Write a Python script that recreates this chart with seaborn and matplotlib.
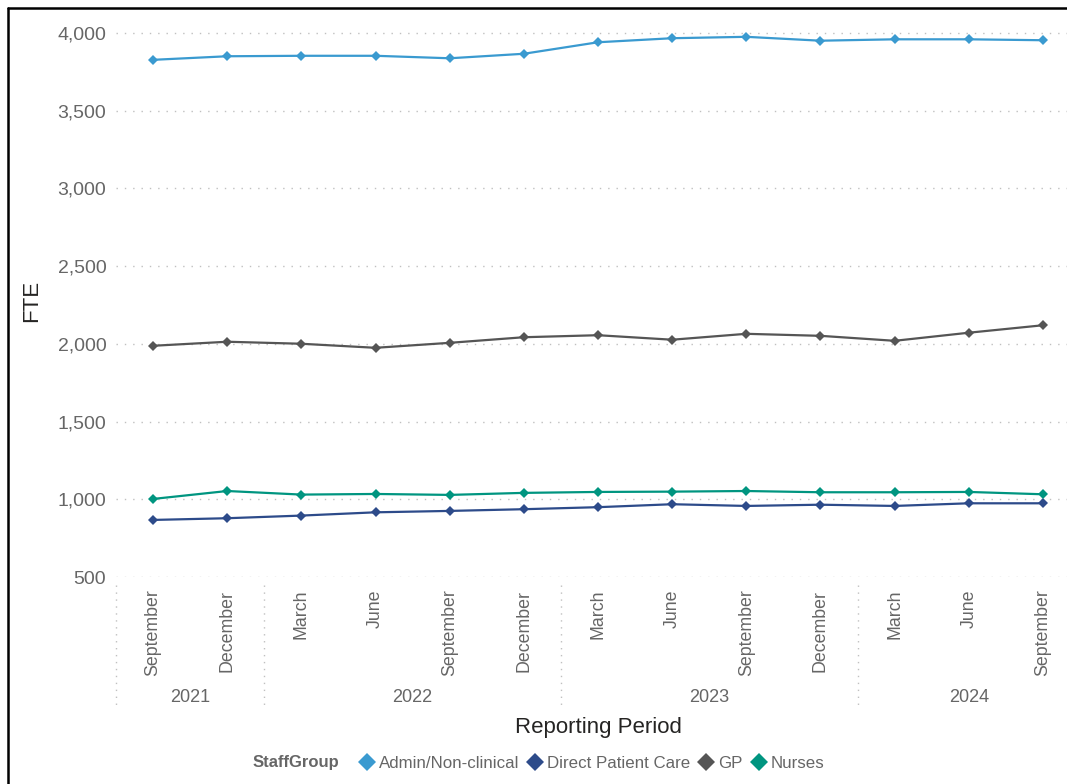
import matplotlib
matplotlib.use("Agg")
import matplotlib.pyplot as plt
import matplotlib.transforms as mtransforms
from matplotlib.lines import Line2D
import pandas as pd
import seaborn as sns

# Quarterly reporting periods
months = ["September", "December", "March", "June", "September", "December",
          "March", "June", "September", "December", "March", "June", "September"]
years = ["2021", "2022", "2023", "2024"]
year_counts = [2, 4, 4, 3]

staff_groups = ["Admin/Non-clinical", "Direct Patient Care", "GP", "Nurses"]

# FTE by staff group
admin_fte = [3826, 3849, 3852, 3852, 3836, 3865, 3939, 3965, 3974, 3949, 3958, 3958, 3952]
dpc_fte = [867, 878, 895, 916, 925, 936, 949, 968, 957, 965, 957, 974, 974]
gp_fte = [1987, 2013, 2000, 1974, 2006, 2042, 2055, 2026, 2064, 2051, 2019, 2071, 2119]
nurses_fte = [1002, 1053, 1030, 1034, 1028, 1041, 1047, 1049, 1053, 1045, 1045, 1047, 1032]

palette = {
    "Admin/Non-clinical": "#3A9AD0",
    "Direct Patient Care": "#2D4B8A",
    "GP": "#555555",
    "Nurses": "#009580",
}

series = [admin_fte, dpc_fte, gp_fte, nurses_fte]
rows = []
for group, vals in zip(staff_groups, series):
    for i, v in enumerate(vals):
        rows.append({"Period": i, "StaffGroup": group, "FTE": v})
df = pd.DataFrame(rows)

sns.set_theme(style="white")
plt.rcParams["font.family"] = ["Liberation Sans", "DejaVu Sans"]

W, H = 1067, 784
fig = plt.figure(figsize=(W / 100, H / 100), dpi=100)
ax_left, ax_right, ax_top, ax_bottom = 116, 1080, 25, 577
ax = fig.add_axes([ax_left / W, 1 - ax_bottom / H,
                   (ax_right - ax_left) / W, (ax_bottom - ax_top) / H])

sns.lineplot(data=df, x="Period", y="FTE", hue="StaffGroup", hue_order=staff_groups,
             palette=palette, marker="D", markersize=5, markeredgewidth=0,
             linewidth=1.6, legend=False, ax=ax)

ax.set_xlim(-0.5, len(months) - 0.5)
ax.set_ylim(500, 4050)
ax.set_yticks([500, 1000, 1500, 2000, 2500, 3000, 3500, 4000])
ax.set_yticklabels([f"{v:,}" for v in ax.get_yticks()])
ax.set_xticks(range(len(months)))
ax.set_xticklabels(months, rotation=90, va="top", ha="center")

for s in ax.spines.values():
    s.set_visible(False)
ax.grid(False)
for v in ax.get_yticks():
    ax.axhline(v, color="#c0c0c0", linewidth=1.0, linestyle=(0, (1, 5)), zorder=0)

ax.tick_params(axis="y", length=0, pad=7, labelsize=14, labelcolor="#666666")
ax.tick_params(axis="x", length=0, pad=9, labelsize=12.8, labelcolor="#666666")
ax.set_xlabel("")
ax.set_ylabel("")

# Year grouping below month labels
trans = mtransforms.blended_transform_factory(ax.transData, ax.transAxes)
ax_h = ax_bottom - ax_top
y_sep_top = -(585 - ax_bottom) / ax_h
y_sep_bot = -(710 - ax_bottom) / ax_h
y_year = -(698 - ax_bottom) / ax_h
start = 0
for yr, n in zip(years, year_counts):
    left = start - 0.5
    right = start + n - 0.5
    ax.plot([left, left], [y_sep_top, y_sep_bot], transform=trans, clip_on=False,
            color="#c0c0c0", linewidth=1.0, linestyle=(0, (1, 4)))
    ax.text((left + right) / 2, y_year, yr, transform=trans, ha="center", va="center",
            fontsize=13, color="#666666")
    start += n

fig.text(598 / W, 1 - 728 / H, "Reporting Period", ha="center", va="center",
         fontsize=16, color="#252423")
fig.text(32 / W, 1 - 301 / H, "FTE", ha="center", va="center", rotation=90,
         fontsize=16, color="#252423")

# Legend along the bottom
fig.text(253 / W, 1 - 763 / H, "StaffGroup", ha="left", va="center",
         fontsize=12, fontweight="bold", color="#666666")
handles = [Line2D([], [], linestyle="none", marker="D", markersize=9,
                  markeredgewidth=0, color=palette[g]) for g in staff_groups]
fig.legend(handles, staff_groups, loc="center left",
           bbox_to_anchor=(355 / W, 1 - 763 / H), ncol=4, frameon=False,
           fontsize=12.2, handletextpad=0.0, columnspacing=0.25, handlelength=1.4,
           labelcolor="#666666", borderaxespad=0, borderpad=0)

# Frame edges
fig.add_artist(Line2D([8 / W, 8 / W], [0, 1 - 8 / H], transform=fig.transFigure,
                      color="black", linewidth=1.8))
fig.add_artist(Line2D([8 / W, 1], [1 - 8 / H, 1 - 8 / H], transform=fig.transFigure,
                      color="black", linewidth=1.8))

fig.savefig("out.png", dpi=100)
